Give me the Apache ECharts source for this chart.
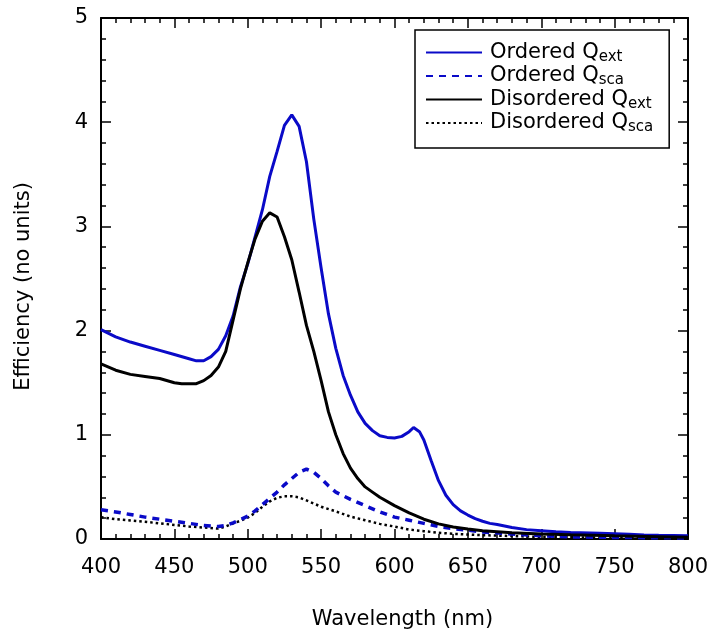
<!DOCTYPE html>
<html>
<head>
<meta charset="utf-8">
<script src="https://cdn.jsdelivr.net/npm/echarts@6/dist/echarts.min.js"></script>
<style>
html,body{margin:0;padding:0;background:#fff;}
#chart{width:710px;height:634px;}
</style>
</head>
<body>
<div id="chart"></div>
<script>
// ---- Data ----
var seriesNames = ['Ordered Qext', 'Ordered Qsca', 'Disordered Qext', 'Disordered Qsca'];

var ordExtX = [400,410,420,430,440,450,460,465,470,475,480,485,490,495,500,505,510,515,520,525,530,535,540,545,550,555,560,565,570,575,580,585,590,595,600,605,610,613,617,620,625,630,635,640,645,650,655,660,665,670,680,690,700,710,720,740,760,770,780,800];
var ordExtY = [2.01,1.94,1.89,1.85,1.81,1.77,1.73,1.71,1.71,1.75,1.82,1.95,2.14,2.42,2.64,2.90,3.16,3.48,3.72,3.97,4.07,3.96,3.62,3.07,2.60,2.16,1.83,1.57,1.38,1.22,1.11,1.04,0.99,0.975,0.97,0.985,1.03,1.07,1.03,0.95,0.75,0.56,0.42,0.33,0.27,0.23,0.195,0.17,0.15,0.14,0.11,0.09,0.08,0.07,0.062,0.055,0.045,0.038,0.035,0.032];

var ordScaX = [400,410,420,430,440,450,460,470,480,485,490,495,500,505,510,515,520,525,530,535,540,545,550,555,560,570,580,590,600,610,620,630,640,650,660,680,700,720,750,800];
var ordScaY = [0.28,0.26,0.235,0.21,0.19,0.17,0.15,0.13,0.12,0.13,0.155,0.185,0.22,0.27,0.33,0.39,0.45,0.52,0.58,0.64,0.67,0.64,0.58,0.51,0.45,0.38,0.32,0.26,0.21,0.18,0.15,0.12,0.10,0.085,0.068,0.048,0.032,0.02,0.015,0.01];

var disExtX = [400,410,420,430,440,450,455,465,470,475,480,485,490,495,500,505,510,515,520,525,530,535,540,545,550,555,560,565,570,575,580,585,590,600,610,620,630,640,650,660,670,680,700,720,750,780,800];
var disExtY = [1.68,1.62,1.58,1.56,1.54,1.50,1.49,1.49,1.52,1.57,1.65,1.80,2.10,2.40,2.65,2.88,3.05,3.13,3.09,2.90,2.68,2.37,2.05,1.80,1.52,1.22,1.00,0.82,0.68,0.58,0.50,0.45,0.40,0.32,0.25,0.19,0.145,0.115,0.095,0.08,0.07,0.06,0.048,0.04,0.03,0.022,0.016];

var disScaX = [400,410,420,430,440,450,460,470,480,485,490,495,500,505,510,515,520,525,530,535,540,550,560,570,580,590,600,610,620,630,640,660,680,700,750,800];
var disScaY = [0.21,0.19,0.178,0.165,0.15,0.135,0.12,0.11,0.10,0.12,0.15,0.175,0.205,0.25,0.31,0.36,0.395,0.41,0.41,0.40,0.37,0.31,0.265,0.215,0.18,0.145,0.12,0.09,0.075,0.06,0.05,0.037,0.028,0.02,0.012,0.008];

var xTicks = [400,450,500,550,600,650,700,750,800];
var yTicks = [0,1,2,3,4,5];

function pairs(xs, ys) { return xs.map(function (x, i) { return [x, ys[i]]; }); }

var BLUE = '#0a0ac8';
var FONT = 'DejaVu Sans';

var tickStyle = { color: '#000', width: 1.5 };
function xAxisDef(pos, showLabel) {
  return {
    type: 'value', position: pos, min: xTicks[0], max: xTicks[xTicks.length - 1], interval: 50,
    axisLine: { show: true, onZero: false, lineStyle: { color: '#000', width: 2 } },
    axisTick: { show: true, inside: true, length: 10, lineStyle: tickStyle },
    minorTick: { show: true, splitNumber: 5, length: 5, lineStyle: tickStyle },
    splitLine: { show: false }, minorSplitLine: { show: false },
    axisLabel: { show: showLabel, color: '#000', fontFamily: FONT, fontSize: 21, margin: 18 },
    name: showLabel ? 'Wavelength (nm)' : '',
    nameLocation: 'middle', nameGap: 70,
    nameTextStyle: { color: '#000', fontFamily: FONT, fontSize: 21, padding: [0, 0, 0, 16] }
  };
}
function yAxisDef(pos, showLabel) {
  return {
    type: 'value', position: pos, min: yTicks[0], max: yTicks[yTicks.length - 1], interval: 1,
    axisLine: { show: true, onZero: false, lineStyle: { color: '#000', width: 2 } },
    axisTick: { show: true, inside: true, length: 10, lineStyle: tickStyle },
    minorTick: { show: true, splitNumber: 5, length: 5, lineStyle: tickStyle },
    splitLine: { show: false }, minorSplitLine: { show: false },
    axisLabel: { show: showLabel, color: '#000', fontFamily: FONT, fontSize: 21, margin: 13 },
    name: showLabel ? 'Efficiency (no units)' : '',
    nameLocation: 'middle', nameGap: 67, nameRotate: 90,
    nameTextStyle: { color: '#000', fontFamily: FONT, fontSize: 21, padding: [0, 0, 0, -16] }
  };
}

var legendRich = {
  m: { fontFamily: FONT, fontSize: 21, color: '#000', lineHeight: 24 },
  s: { fontFamily: FONT, fontSize: 15, color: '#000', lineHeight: 10, verticalAlign: 'bottom' }
};

var option = {
  backgroundColor: '#fff',
  animation: false,
  grid: { left: 101, right: 22, top: 18, bottom: 95, containLabel: false, outerBoundsMode: 'none' },
  xAxis: [xAxisDef('bottom', true), xAxisDef('top', false)],
  yAxis: [yAxisDef('left', true), yAxisDef('right', false)],
  legend: {
    orient: 'vertical', left: 415, top: 30,
    padding: [12, 16, 13, 10], itemGap: 1,
    itemWidth: 56, itemHeight: 14,
    borderColor: '#000', borderWidth: 1.5, backgroundColor: '#fff',
    itemStyle: { color: 'rgba(0,0,0,0)', borderWidth: 0, opacity: 0 },
    data: seriesNames,
    formatter: function (name) {
      var parts = name.split(' Q');
      return '{m|' + parts[0] + ' Q}{s|' + parts[1] + '}';
    },
    textStyle: { rich: legendRich, padding: [0, 0, 0, 3] }
  },
  series: [
    { name: seriesNames[0], type: 'line', data: pairs(ordExtX, ordExtY), symbol: 'none', z: 4,
      lineStyle: { color: BLUE, width: 3 }, itemStyle: { color: BLUE } },
    { name: seriesNames[1], type: 'line', data: pairs(ordScaX, ordScaY), symbol: 'none', z: 3,
      lineStyle: { color: BLUE, width: 3.5, type: [7, 6] }, itemStyle: { color: BLUE } },
    { name: seriesNames[2], type: 'line', data: pairs(disExtX, disExtY), symbol: 'none', z: 5,
      lineStyle: { color: '#000', width: 3 }, itemStyle: { color: '#000' } },
    { name: seriesNames[3], type: 'line', data: pairs(disScaX, disScaY), symbol: 'none', z: 2,
      lineStyle: { color: '#000', width: 2.5, type: [2.5, 3] }, itemStyle: { color: '#000' } }
  ]
};

var chart = echarts.init(document.getElementById('chart'), null, { renderer: 'canvas' });
chart.setOption(option);
</script>
</body>
</html>
